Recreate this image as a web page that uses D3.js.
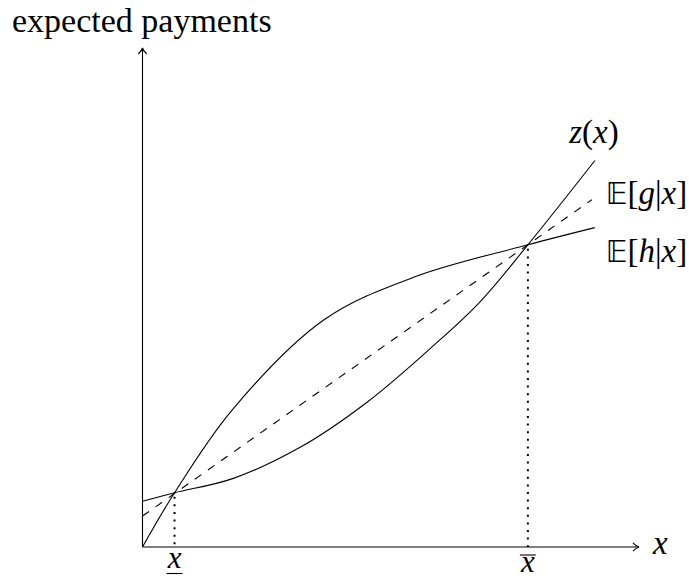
<!DOCTYPE html>
<html>
<head>
<meta charset="utf-8">
<script src="https://cdn.jsdelivr.net/npm/d3@7"></script>
<style>
  html, body { margin: 0; padding: 0; background: #fff; }
  svg { display: block; }
  text { font-family: "Liberation Serif", "DejaVu Serif", serif; fill: #000; }
</style>
</head>
<body>
<svg id="chart" width="689" height="580"></svg>
<script>
// Expected payment schedules as functions of x
const hX = [0, 0.645, 1.8, 3.65, 5.5, 7.762, 9.11];
const hY = [0, 1.087, 2.74, 4.55, 5.42, 6.056, 6.40];

const zX = [0, 0.645, 1.815, 3.165, 4.516, 5.847, 6.794, 7.762, 9.113];
const zY = [0.915, 1.087, 1.37, 1.992, 2.897, 4.024, 4.909, 6.056, 7.746];

const gX = [0, 9.05];
const gY = [0.62, 6.96];

// Crossing points of the schedules
const crossX = [0.645, 7.762];
const crossY = [1.087, 6.056];

const axisMax = 10;

const svg = d3.select("#chart");
const x = d3.scaleLinear().domain([0, axisMax]).range([142.5, 639]);
const y = d3.scaleLinear().domain([0, axisMax]).range([547, 48]);

const toPoints = (xs, ys) => xs.map((v, i) => [v, ys[i]]);
const line = d3.line().x(d => x(d[0])).y(d => y(d[1]));
const smooth = d3.line().x(d => x(d[0])).y(d => y(d[1])).curve(d3.curveCatmullRom.alpha(0.5));

// Axes with open arrow heads
const axes = svg.append("g").attr("stroke", "#000").attr("fill", "none").attr("stroke-width", 1.1);
axes.append("line").attr("x1", x(0)).attr("y1", y(0)).attr("x2", x(axisMax) - 0.5).attr("y2", y(0));
axes.append("line").attr("x1", x(0)).attr("y1", y(0)).attr("x2", x(0)).attr("y2", y(axisMax) + 0.5);
const tx = x(axisMax), ty = y(0);
axes.append("path").attr("d", `M${tx-6},${ty-4.2} Q${tx-2.5},${ty-0.6} ${tx},${ty} Q${tx-2.5},${ty+0.6} ${tx-6},${ty+4.2}`);
const ux = x(0), uy = y(axisMax);
axes.append("path").attr("d", `M${ux-4.2},${uy+6} Q${ux-0.6},${uy+2.5} ${ux},${uy} Q${ux+0.6},${uy+2.5} ${ux+4.2},${uy+6}`);

// Dotted drop lines at the crossing points
svg.append("g").selectAll("line").data(crossX).join("line")
  .attr("x1", d => x(d)).attr("x2", d => x(d))
  .attr("y1", (d, i) => y(crossY[i]) + 4).attr("y2", y(0))
  .attr("stroke", "#000").attr("stroke-width", 2)
  .attr("stroke-dasharray", "2,5.6");

// Curves
svg.append("path").attr("d", line(toPoints(gX, gY)))
  .attr("fill", "none").attr("stroke", "#000").attr("stroke-width", 1.1)
  .attr("stroke-dasharray", "8,8");
svg.append("path").attr("d", smooth(toPoints(hX, hY)))
  .attr("fill", "none").attr("stroke", "#000").attr("stroke-width", 1.1);
svg.append("path").attr("d", smooth(toPoints(zX, zY)))
  .attr("fill", "none").attr("stroke", "#000").attr("stroke-width", 1.1);

// Labels
const fs = 33;
svg.append("text").attr("x", 12).attr("y", 32).attr("font-size", 34)
  .text("expected payments");

svg.append("text").attr("x", x(axisMax) + 14).attr("y", y(0) + 7).attr("font-size", fs)
  .attr("font-style", "italic").text("x");

function mathLabel(px, py, anchor, parts) {
  const t = svg.append("text").attr("x", px).attr("y", py).attr("font-size", fs)
    .attr("text-anchor", anchor);
  parts.forEach(p => {
    const s = t.append("tspan").text(p[0]);
    if (p[1] === "i") s.attr("font-style", "italic");
    if (p[1] === "bb") s.attr("font-family", "'DejaVu Sans', 'DejaVu Serif', serif").attr("font-size", fs * 0.9);
  });
  return t;
}

const zEnd = zX.length - 1, gEnd = gX.length - 1, hEnd = hX.length - 1;
mathLabel(x(zX[zEnd]) - 1, y(zY[zEnd]) - 17, "middle", [["z", "i"], ["(", ""], ["x", "i"], [")", ""]]);
mathLabel(x(gX[gEnd]) + 14, y(gY[gEnd]) + 4, "start", [["\u{1D53C}", "bb"], ["[", ""], ["g", "i"], ["|", ""], ["x", "i"], ["]", ""]]);
mathLabel(x(hX[hEnd]) + 11, y(hY[hEnd]) + 34, "start", [["\u{1D53C}", "bb"], ["[", ""], ["h", "i"], ["|", ""], ["x", "i"], ["]", ""]]);

// Threshold labels under the axis
const lowX = x(crossX[0]), highX = x(crossX[1]);
const fsT = 31;
svg.append("text").attr("x", lowX).attr("y", 568).attr("font-size", fsT)
  .attr("text-anchor", "middle").attr("font-style", "italic").text("x");
svg.append("line").attr("x1", lowX - 8).attr("x2", lowX + 8).attr("y1", 573.5).attr("y2", 573.5)
  .attr("stroke", "#000").attr("stroke-width", 1.1);
svg.append("text").attr("x", highX).attr("y", 572).attr("font-size", fsT)
  .attr("text-anchor", "middle").attr("font-style", "italic").text("x");
svg.append("line").attr("x1", highX - 8).attr("x2", highX + 8).attr("y1", 555).attr("y2", 555)
  .attr("stroke", "#000").attr("stroke-width", 1.1);
</script>
</body>
</html>
